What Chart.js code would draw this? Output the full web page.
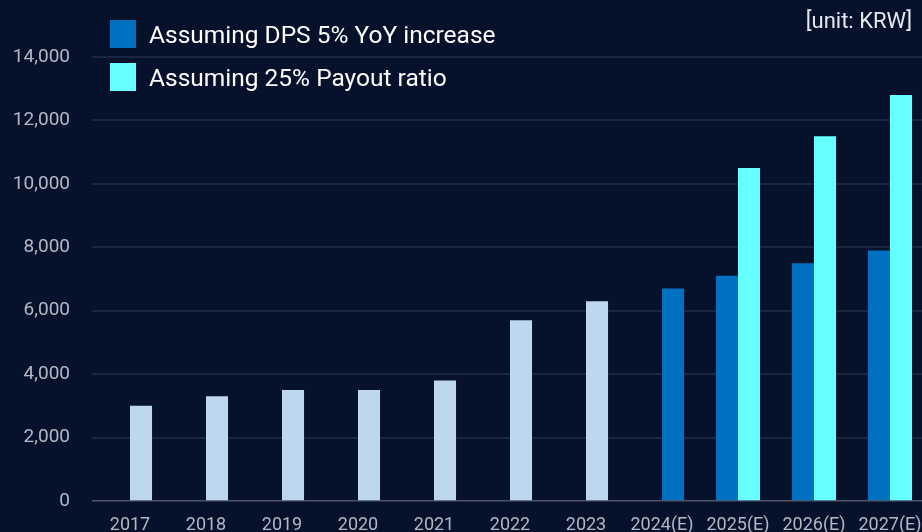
<!DOCTYPE html>
<html>
<head>
<meta charset="utf-8">
<script src="https://cdn.jsdelivr.net/npm/chart.js@4.4.1/dist/chart.umd.min.js"></script>
<style>
  html, body { margin: 0; padding: 0; background: #06112c; overflow: hidden; }
  #wrap { position: relative; width: 922px; height: 532px; overflow: hidden; }
  #dpsChart { display: block; }
  #legend { position: absolute; left: 110px; top: 20px; font-family: Roboto, sans-serif; color: #ffffff; font-size: 24.5px; }
  #legend div { display: flex; align-items: center; height: 28px; margin-bottom: 15px; }
  #legend span.box { display: inline-block; width: 26px; height: 28px; margin-right: 13px; }
  #unit { position: absolute; right: 10px; top: 8px; font-family: Roboto, sans-serif; color: #e6e8ee; font-size: 22px; }
</style>
</head>
<body>
<div id="wrap">
  <!-- canvas is a bit wider than the frame: the last category gets cut at the edge -->
  <canvas id="dpsChart" width="928" height="532"></canvas>
  <div id="legend"></div>
  <div id="unit">[unit: KRW]</div>
</div>
<script>
// DPS history and forecast scenarios (KRW)
const years = ['2017', '2018', '2019', '2020', '2021', '2022', '2023', '2024(E)', '2025(E)', '2026(E)', '2027(E)'];
const actualDps = [3000, 3300, 3500, 3500, 3800, 5700, 6300, null, null, null, null];
const dpsGrowth5 = [null, null, null, null, null, null, null, 6700, 7100, 7500, 7900];
const payout25 = [null, null, null, null, null, null, null, null, 10500, 11500, 12800];
const yTicks = [0, 2000, 4000, 6000, 8000, 10000, 12000, 14000];

const seriesNames = ['Assuming DPS 5% YoY increase', 'Assuming 25% Payout ratio'];
const actualColor = '#bdd7ee';
const growthColor = '#0070c0';
const payoutColor = '#66ffff';

// left slot: growth case only where a payout case sits next to it
const leftBars = years.map((_, i) => payout25[i] != null ? dpsGrowth5[i] : null);
// right slot: actuals, then payout case, else the lone growth case
const rightBars = years.map((_, i) => actualDps[i] ?? payout25[i] ?? dpsGrowth5[i]);
const rightColors = years.map((_, i) =>
  actualDps[i] != null ? actualColor : (payout25[i] != null ? payoutColor : growthColor));

const legend = document.getElementById('legend');
[[seriesNames[0], growthColor], [seriesNames[1], payoutColor]].forEach(([name, color]) => {
  const row = document.createElement('div');
  row.innerHTML = '<span class="box" style="background:' + color + '"></span>' + name;
  legend.appendChild(row);
});

const ctx = document.getElementById('dpsChart').getContext('2d');
new Chart(ctx, {
  type: 'bar',
  data: {
    labels: years,
    datasets: [
      { label: seriesNames[0], data: leftBars, backgroundColor: growthColor },
      { label: seriesNames[1], data: rightBars, backgroundColor: rightColors }
    ]
  },
  options: {
    responsive: false,
    animation: false,
    layout: { padding: { top: 57, right: 0, left: 0, bottom: 0 } },
    datasets: { bar: { categoryPercentage: 0.58, barPercentage: 1.0 } },
    plugins: { legend: { display: false }, tooltip: { enabled: false } },
    scales: {
      x: {
        grid: { display: false },
        border: { display: false },
        ticks: { color: '#b4b8c2', font: { family: 'Roboto', size: 18 }, padding: 6, maxRotation: 0, autoSkip: false },
        afterFit: s => { s.height = 31; }
      },
      y: {
        min: 0,
        max: 14000,
        afterBuildTicks: s => { s.ticks = yTicks.map(v => ({ value: v })); },
        grid: {
          drawTicks: false,
          lineWidth: c => c.tick && c.tick.value === 0 ? 1.5 : 2,
          color: c => c.tick && c.tick.value === 0 ? '#4d5567' : '#1b2641'
        },
        border: { display: false },
        ticks: {
          color: '#b4b8c2',
          font: { family: 'Roboto', size: 19 },
          padding: 22,
          callback: v => v.toLocaleString('en-US')
        },
        // fixed axis width; the tick padding shouldn't also eat vertical room
        afterFit: s => { s.width = 92; s.paddingTop = 0; s.paddingBottom = 0; }
      }
    }
  }
});
</script>
</body>
</html>
